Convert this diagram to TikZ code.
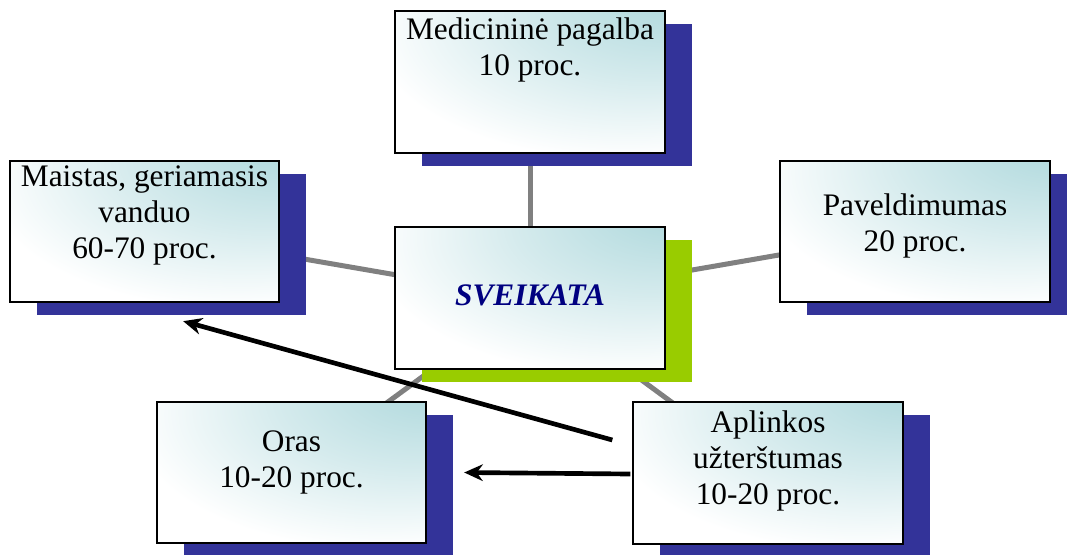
\documentclass[tikz,border=0pt]{standalone}
\usepackage{fontspec}
\setmainfont{Liberation Serif}
\usetikzlibrary{arrows.meta, shadows, backgrounds}
\definecolor{shblue}{RGB}{51,51,153}
\definecolor{shgreen}{RGB}{153,204,0}
\definecolor{boxteal}{RGB}{178,218,222}
\definecolor{titleblue}{RGB}{0,0,128}
\pgfdeclareradialshading{cornerteal}{\pgfpoint{30bp}{35bp}}{color(0bp)=(boxteal); color(8bp)=(boxteal!95!white); color(25bp)=(boxteal!55!white); color(46bp)=(white); color(100bp)=(white)}

\begin{document}
\begin{tikzpicture}[x=0.75pt, y=-0.75pt,
    basebox/.style={draw, line width=1.5pt, minimum width=202pt, minimum height=106pt, inner sep=0pt, align=center, font=\fontsize{23.5}{27}\selectfont, shading=cornerteal},
    factorbox/.style={basebox, general shadow={fill=shblue, shadow xshift=20.25pt, shadow yshift=-9.75pt}},
    mainbox/.style={basebox, general shadow={fill=shgreen, shadow xshift=20.25pt, shadow yshift=-9.75pt}, font=\fontsize{23.5}{27}\selectfont\bfseries\itshape, text=titleblue},
    link/.style={draw=gray, line width=3.75pt},
    effect/.style={-{Stealth[length=14pt, width=12.5pt]}, line width=3.5pt},
    ]
    \useasboundingbox (0,0) rectangle (1067,554);

    % Centre box
    \node[mainbox, text depth=4pt] (sveikata) at (530,298) {SVEIKATA};

    % Factors around it
    \node[factorbox, text depth=53pt] (medic) at (530,82) {Medicininė pagalba\\10 proc.};
    \node[factorbox, text depth=29pt] (maist) at (144.5,231.5) {Maistas, geriamasis\\vanduo\\60-70 proc.};
    \node[factorbox, text depth=14pt] (paveld) at (915,231.5) {Paveldimumas\\20 proc.};
    \node[factorbox, text depth=20pt] (oras) at (291.5,472.5) {Oras\\10-20 proc.};
    \node[factorbox, text depth=23pt] (aplink) at (768,473) {Aplinkos\\užterštumas\\10-20 proc.};

    % Grey links behind the boxes
    \begin{scope}[on background layer]
        \foreach \f in {medic, maist, paveld, oras, aplink}
            \draw[link] (sveikata.center) -- (\f.center);
    \end{scope}

    % Black arrows from pollution
    \draw[effect] ([xshift=-15pt, yshift=24.75pt]aplink.west) -- ([xshift=29pt, yshift=-13.5pt]maist.south);
    \draw[effect] ([xshift=-1.5pt, yshift=-0.75pt]aplink.west) -- ([xshift=27.75pt]oras.east);
\end{tikzpicture}
\end{document}
